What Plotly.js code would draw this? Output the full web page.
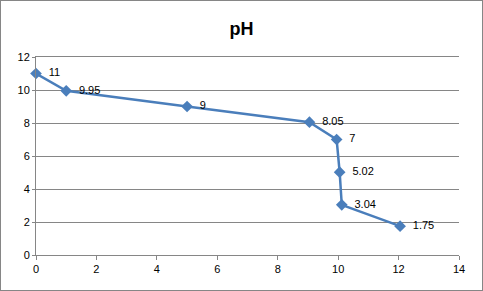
<!DOCTYPE html>
<html><head><meta charset="utf-8">
<script src="https://cdn.plot.ly/plotly-3.0.1.min.js"></script>
<style>
html,body{margin:0;padding:0;background:#fff;}
#chart{width:481px;height:289px;border:1px solid #868686;}
</style></head>
<body><div id="chart"></div>
<script>
const xVals = [0, 1, 5, 9.05, 9.95, 10.05, 10.12, 12.05];
const phVals = [11, 9.95, 9, 8.05, 7, 5.02, 3.04, 1.75];
const labels = ['11', '9.95', '9', '8.05', '7', '5.02', '3.04', '1.75'];
const xTicks = [0, 2, 4, 6, 8, 10, 12, 14];
const yTicks = [0, 2, 4, 6, 8, 10, 12];

const trace = {
  x: xVals, y: phVals, text: labels,
  type: 'scatter', mode: 'lines+markers+text',
  textposition: 'middle right',
  texttemplate: '  %{text}',
  textfont: {family: 'Liberation Sans, Arial, sans-serif', size: 11, color: '#000'},
  line: {color: '#4A7EBB', width: 2.5},
  marker: {symbol: 'diamond', size: 9, color: '#4A7EBB'},
  cliponaxis: false, hoverinfo: 'none'
};
const layout = {
  width: 481, height: 289,
  margin: {l: 35, r: 23, t: 56, b: 35},
  paper_bgcolor: '#fff', plot_bgcolor: '#fff',
  showlegend: false,
  title: {text: '<b>pH</b>', x: 0.5, xanchor: 'center', y: 0.925, yanchor: 'top',
    font: {family: 'Liberation Sans, Arial, sans-serif', size: 18, color: '#000'}},
  xaxis: {range: [0, 14], tickvals: xTicks, ticktext: xTicks.map(String),
    showgrid: false, zeroline: false, showline: true, mirror: true, linecolor: '#868686', linewidth: 1,
    ticks: 'outside', ticklen: 4, tickcolor: '#868686',
    tickfont: {family: 'Liberation Sans, Arial, sans-serif', size: 11, color: '#000'}},
  yaxis: {range: [0, 12], tickvals: yTicks, ticktext: yTicks.map(String),
    showgrid: true, gridcolor: '#868686', gridwidth: 1, zeroline: false,
    showline: true, linecolor: '#868686', linewidth: 1,
    ticks: 'outside', ticklen: 3, tickcolor: '#868686',
    tickfont: {family: 'Liberation Sans, Arial, sans-serif', size: 11, color: '#000'}}
};
Plotly.newPlot('chart', [trace], layout, {staticPlot: true, displayModeBar: false});
</script></body></html>
